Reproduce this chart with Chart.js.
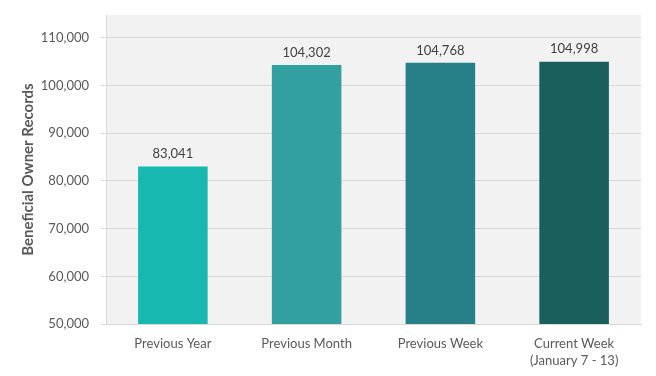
<!DOCTYPE html>
<html>
<head>
<meta charset="utf-8">
<script src="https://cdn.jsdelivr.net/npm/chart.js@4/dist/chart.umd.min.js"></script>
<style>
  html, body { margin: 0; padding: 0; background: #fff; }
  #wrap { width: 656px; height: 376px; }
</style>
</head>
<body>
<div id="wrap"><canvas id="chart"></canvas></div>
<script>
const categories = ['Previous Year', 'Previous Month', 'Previous Week', ['Current Week', '(January 7 - 13)']];
const records = [83041, 104302, 104768, 104998];
const barColors = ['#17b8b0', '#32a0a1', '#278087', '#1b5f5d'];
const yTicks = [50000, 60000, 70000, 80000, 90000, 100000, 110000];

const fmt = v => v.toLocaleString('en-US');

// gray plot background
const plotBg = {
  id: 'plotBg',
  beforeDraw(chart) {
    const { ctx, chartArea: a } = chart;
    ctx.save();
    ctx.fillStyle = '#f2f2f2';
    ctx.fillRect(a.left, a.top, a.right - a.left, a.bottom - a.top);
    ctx.restore();
  }
};

// value labels above the bars
const valueLabels = {
  id: 'valueLabels',
  afterDatasetsDraw(chart) {
    const { ctx } = chart;
    const meta = chart.getDatasetMeta(0);
    ctx.save();
    ctx.fillStyle = '#404040';
    ctx.font = '13px Lato';
    ctx.textAlign = 'center';
    ctx.textBaseline = 'bottom';
    meta.data.forEach((bar, i) => {
      ctx.fillText(fmt(records[i]), bar.x, bar.y - 6);
    });
    ctx.restore();
  }
};

new Chart(document.getElementById('chart'), {
  type: 'bar',
  data: {
    labels: categories,
    datasets: [{
      data: records,
      backgroundColor: barColors,
      borderWidth: 0,
      barPercentage: 0.52,
      categoryPercentage: 1
    }]
  },
  options: {
    responsive: true,
    maintainAspectRatio: false,
    animation: false,
    layout: { padding: { top: 15, right: 15, bottom: 0, left: 0 } },
    plugins: {
      legend: { display: false },
      tooltip: { enabled: false }
    },
    scales: {
      x: {
        grid: { display: false },
        border: { display: true, color: '#d9d9d9' },
        ticks: { color: '#595959', font: { family: 'Lato', size: 13, lineHeight: 1.25 }, padding: 4, maxRotation: 0 },
        afterFit(scale) { scale.height = 52; }
      },
      y: {
        min: 50000,
        max: 114800,
        afterBuildTicks(scale) { scale.ticks = yTicks.map(v => ({ value: v })); },
        grid: { color: '#d9d9d9', tickLength: 5 },
        border: { display: true, color: '#d9d9d9' },
        ticks: { color: '#595959', font: { family: 'Lato', size: 13 }, padding: 12, callback: v => fmt(v) },
        title: {
          display: true,
          text: 'Beneficial Owner Records',
          color: '#595959',
          font: { family: 'Lato', size: 15, weight: 'bold' },
          padding: { top: 19, bottom: 0 }
        },
        afterFit(scale) {
          scale.width = 106;
          scale.paddingTop = 8;
          scale.paddingBottom = 8;
        }
      }
    }
  },
  plugins: [plotBg, valueLabels]
});
</script>
</body>
</html>
